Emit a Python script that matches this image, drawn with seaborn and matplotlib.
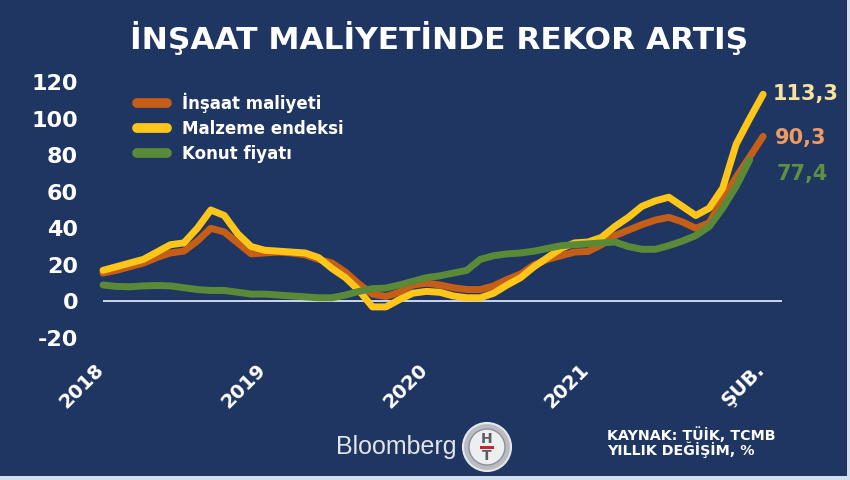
import numpy as np
import pandas as pd
import matplotlib
matplotlib.use("Agg")
import matplotlib.pyplot as plt
import seaborn as sns
from matplotlib.patches import Rectangle, Ellipse
from matplotlib.lines import Line2D
import matplotlib.transforms as mtransforms

# ---------------- data ----------------
tick_positions = [0, 12, 24, 36, 49]
tick_labels = ["2018", "2019", "2020", "2021", "ŞUB."]
y_ticks = [-20, 0, 20, 40, 60, 80, 100, 120]
series_names = ["İnşaat maliyeti", "Malzeme endeksi", "Konut fiyatı"]

insaat = [15.5, 17, 19, 21, 24, 26.5, 27.5, 33, 40, 38,
          32, 26, 26.5, 27, 26.5, 25.5, 23, 21, 16, 9.5,
          4, 2.7, 5, 9, 10, 9, 7.5, 6.5, 6.5, 8.5,
          12, 15, 20, 23, 25, 27, 27.3, 31, 36, 39,
          42, 44.5, 46, 43.5, 40, 43, 56, 68, 79, 90.3]
malzeme = [17, 19, 21, 23, 27, 31, 32, 40, 50, 47,
           37, 30, 28, 27.5, 27, 26.5, 24, 18, 13, 6,
           -3, -3, 1, 4.5, 5.5, 5, 3, 2, 2, 4.5,
           9, 13, 19, 24, 29, 32, 32.5, 35, 41, 46,
           52, 55, 57, 52, 47, 51, 62, 86, 100, 113.3]
konut = [9, 8.2, 8, 8.5, 8.7, 8.5, 7.5, 6.5, 6, 6,
         5, 4, 4, 3.5, 3, 2.5, 2, 2, 3.5, 5.5,
         7, 7.3, 9, 11, 13, 14, 15.5, 17, 23, 25,
         26, 26.5, 27.5, 29, 30.5, 31, 31.5, 32, 32.5, 30,
         28.5, 28.5, 30.5, 33, 36, 41, 51, 63, 77.4]
end_labels = ["90,3", "113,3", "77,4"]

# ---------------- styles ----------------
BG = "#1f3662"
colors = ["#c55e17", "#ffc61a", "#5a8a37"]
label_colors = ["#ee9a62", "#f8e39c", "#5f8f3f"]
label_offsets = [(12, -2), (10, 0), (27, -14)]  # pixels

sns.set_theme(style="white")
plt.rcParams["font.family"] = ["DejaVu Sans"]

rows = []
for name, vals in zip(series_names, [insaat, malzeme, konut]):
    for i, v in enumerate(vals):
        rows.append({"ay": i, "deger": v, "seri": name})
df = pd.DataFrame(rows)

W, H = 850, 480
fig = plt.figure(figsize=(W / 100, H / 100), dpi=100)
fig.patch.set_facecolor("#d3deef")
fig.patches.append(Rectangle((0, 4 / H), 847 / W, 476 / H, transform=fig.transFigure,
                             facecolor=BG, edgecolor="none", zorder=-10))

ax_left, ax_right, ax_top, ax_bottom = 103, 782, 82, 338
ax = fig.add_axes([ax_left / W, 1 - ax_bottom / H, (ax_right - ax_left) / W, (ax_bottom - ax_top) / H])
ax.set_facecolor("none")
ax.set_zorder(5)

ax.axhline(0, color="#c9d7ee", lw=1.4, zorder=1)

sns.lineplot(data=df, x="ay", y="deger", hue="seri", hue_order=series_names,
             palette=colors, linewidth=5, legend=False, errorbar=None, sort=False, ax=ax)
for ln in ax.get_lines()[1:]:
    ln.set_solid_capstyle("round")
    ln.set_solid_joinstyle("round")
    ln.set_clip_on(False)
    ln.set_zorder(3)

ax.set_xlim(0, 50.4)
ax.set_ylim(-20, 120)
ax.set_xlabel("")
ax.set_ylabel("")
for s in ax.spines.values():
    s.set_visible(False)

ax.set_yticks(y_ticks)
ax.set_yticklabels([str(t) for t in y_ticks])
ax.tick_params(axis="y", length=0, pad=18, labelsize=16, labelcolor="white")
for t in ax.get_yticklabels():
    t.set_fontweight("bold")

ax.set_xticks(tick_positions)
ax.set_xticklabels(tick_labels, rotation=45, ha="right")
ax.tick_params(axis="x", length=0, pad=16, labelsize=14, labelcolor="white")
offset = mtransforms.ScaledTranslation(5 / 100, 0, fig.dpi_scale_trans)
for t in ax.get_xticklabels():
    t.set_fontweight("bold")
    t.set_transform(t.get_transform() + offset)

# end labels
for vals, lab, col, off in zip([insaat, malzeme, konut], end_labels, label_colors, label_offsets):
    ax.annotate(lab, xy=(len(vals) - 1, vals[-1]), xytext=off, textcoords="offset pixels",
                ha="left", va="center", fontsize=15, fontweight="bold", color=col,
                annotation_clip=False)

# legend
handles = [Line2D([], [], color=c, lw=7, solid_capstyle="round") for c in colors]
leg = ax.legend(handles, series_names, loc="upper left",
                bbox_to_anchor=(137 / W, 1 - 93 / H), bbox_transform=fig.transFigure,
                frameon=False, borderpad=0, borderaxespad=0, handlelength=1.8,
                handletextpad=0.9, labelspacing=0.42,
                prop={"size": 12, "weight": "bold"})
for t in leg.get_texts():
    t.set_color("white")

# title
fig.text(439 / W, 1 - 38 / H, "İNŞAAT MALİYETİNDE REKOR ARTIŞ", ha="center", va="center",
         fontsize=22.5, fontweight="bold", color="white")

# source
fig.text(607 / W, 1 - 435 / H, "KAYNAK: TÜİK, TCMB", ha="left", va="center",
         fontsize=10.3, fontweight="bold", color="white")
fig.text(607 / W, 1 - 450 / H, "YILLIK DEĞİŞİM, %", ha="left", va="center",
         fontsize=10.3, fontweight="bold", color="white")

# Bloomberg HT logo
fig.text(336 / W, 1 - 447 / H, "Bloomberg", ha="left", va="center",
         fontsize=18, family="Liberation Sans", color="#e2e4e8")
cx, cy = 487 / W, 1 - 447 / H
fig.patches.append(Ellipse((cx, cy), 48 / W, 48 / H, transform=fig.transFigure,
                           facecolor="#b9bcc2", edgecolor="#e8e8ea", lw=1.5, zorder=2))
fig.patches.append(Ellipse((cx, cy), 36 / W, 36 / H, transform=fig.transFigure,
                           facecolor="#eceef0", edgecolor="#8d9096", lw=1, zorder=3))
fig.text(cx, cy + 8 / H, "H", ha="center", va="center", fontsize=10, fontweight="bold",
         color="#5a5d63", zorder=4)
fig.patches.append(Rectangle((cx - 7 / W, cy - 1.5 / H), 14 / W, 3 / H, transform=fig.transFigure,
                             facecolor="#c0282d", edgecolor="none", zorder=4))
fig.text(cx, cy - 9 / H, "T", ha="center", va="center", fontsize=10, fontweight="bold",
         color="#5a5d63", zorder=4)

fig.savefig("out.png", dpi=100, facecolor=fig.get_facecolor())
